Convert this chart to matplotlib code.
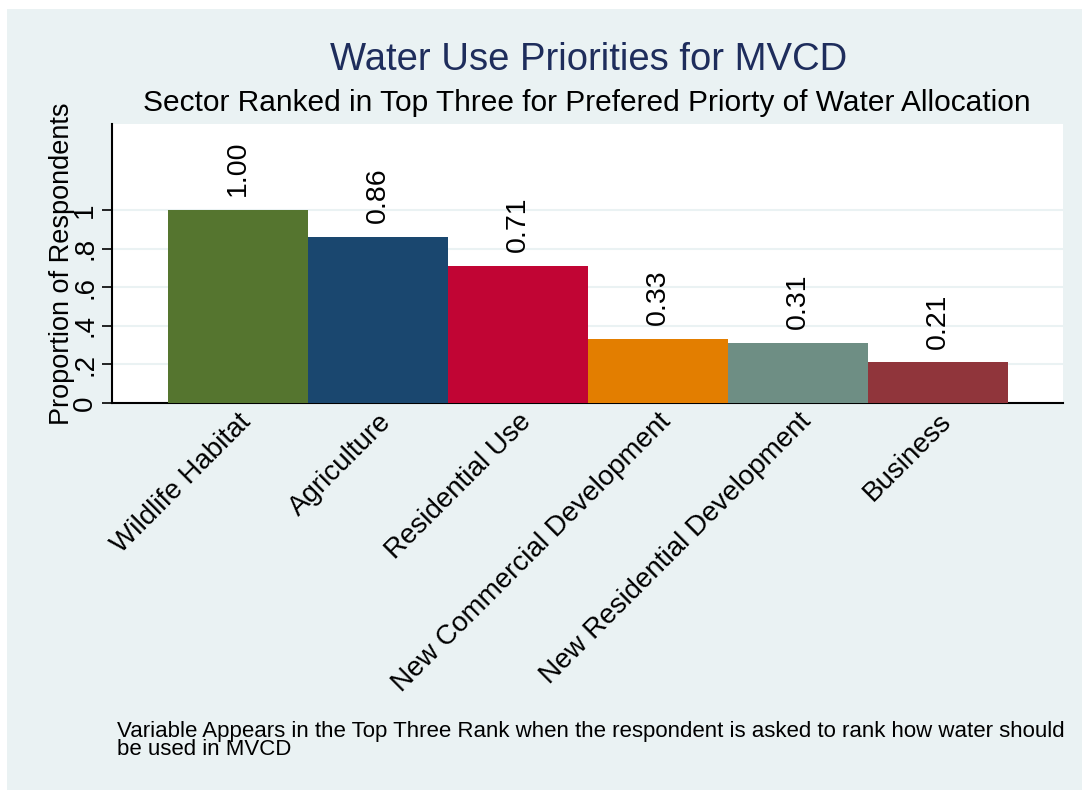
import matplotlib
matplotlib.use('Agg')
import matplotlib.pyplot as plt
from matplotlib.patches import Rectangle

# data
sectors = ['Wildlife Habitat', 'Agriculture', 'Residential Use',
           'New Commercial Development', 'New Residential Development', 'Business']
proportions = [1.00, 0.86, 0.71, 0.33, 0.31, 0.21]
bar_colors = ['#55752F', '#1A476F', '#C10534', '#E37E00', '#6E8E84', '#90353B']
ytick_vals = [0, 0.2, 0.4, 0.6, 0.8, 1.0]
ytick_text = ['0', '.2', '.4', '.6', '.8', '1']

bg = '#EAF2F3'
plt.rcParams['font.family'] = ['Liberation Sans', 'DejaVu Sans']

fig = plt.figure(figsize=(10.82, 7.91), dpi=100)
fig.patch.set_facecolor('white')
# stata style outer panel
fig.patches.append(Rectangle((7/1082, 1/791), 1, 781/791, transform=fig.transFigure,
                             facecolor=bg, edgecolor='none', zorder=-10))

ax = fig.add_axes([112/1082, 1-403/791, (1063-112)/1082, (403-124)/791])
ax.set_facecolor('white')

xs = list(range(len(sectors)))
bars = ax.bar(xs, proportions, width=1.0, color=bar_colors, zorder=3)
for x, v in zip(xs, proportions):
    ax.annotate('{:.2f}'.format(v), (x, v), xytext=(0, 10), textcoords='offset points',
                rotation=90, ha='center', va='bottom', fontsize=20.5)

ax.set_xlim(-0.9, 5.89)
ax.set_ylim(0, 1.445)
ax.set_yticks(ytick_vals)
ax.set_yticklabels(ytick_text, rotation=90, va='center', fontsize=20)
ax.yaxis.grid(True, color=bg, linewidth=1.5, zorder=0)
ax.tick_params(axis='y', length=7, width=1.2, pad=3)
ax.set_xticks(xs)
ax.set_xticklabels(sectors, rotation=45, ha='right', va='top', rotation_mode='anchor',
                   fontsize=20)
ax.tick_params(axis='x', length=0, pad=4)
for s in ['top', 'right']:
    ax.spines[s].set_visible(False)
for s in ['left', 'bottom']:
    ax.spines[s].set_linewidth(1.5)
ax.set_ylabel('Proportion of Respondents', fontsize=19.5, labelpad=-2)

fig.text(589/1082, 1-60/791, 'Water Use Priorities for MVCD', ha='center', va='center',
         fontsize=27.5, color='#1E2D5C')
fig.text(587/1082, 1-103/791, 'Sector Ranked in Top Three for Prefered Priorty of Water Allocation',
         ha='center', va='center', fontsize=21.5)
fig.text(117/1082, 1-721/791,
         'Variable Appears in the Top Three Rank when the respondent is asked to rank how water should\nbe used in MVCD',
         ha='left', va='top', fontsize=16, linespacing=0.8)

fig.savefig('out.png', dpi=100, facecolor=fig.get_facecolor())
